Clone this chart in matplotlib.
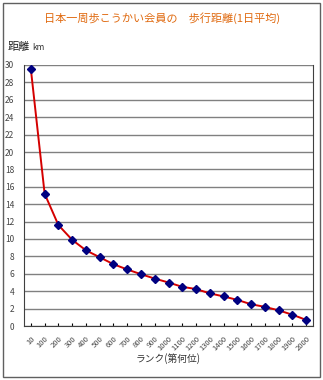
import matplotlib.pyplot as plt
from matplotlib.patches import Rectangle

plt.rcParams['font.family'] = ['Noto Sans CJK JP', 'DejaVu Sans']

ranks = ['10', '100', '200', '300', '400', '500', '600', '700', '800', '900', '1000',
         '1100', '1200', '1300', '1400', '1500', '1600', '1700', '1800', '1900', '2000']
distance_km = [29.5, 15.2, 11.6, 9.9, 8.7, 7.9, 7.1, 6.5, 5.95, 5.45, 5.0,
               4.5, 4.25, 3.75, 3.4, 3.0, 2.5, 2.2, 1.8, 1.3, 0.7]

title = '日本一周歩こうかい会員の　歩行距離(1日平均)'

def main():
    fig = plt.figure(figsize=(3.23, 3.80), dpi=100)
    W, H = 323, 380
    ax = fig.add_axes([24 / W, 1 - 326 / H, (313 - 24) / W, (326 - 65) / H])

    x = list(range(len(ranks)))
    ax.plot(x, distance_km, color='#d40000', lw=1.4, zorder=3)
    ax.plot(x, distance_km, 'D', color='#000080', ms=4.5, zorder=4)

    ax.set_xlim(-0.5, len(ranks) - 0.5)
    ax.set_ylim(0, 30)
    ax.set_yticks(range(0, 31, 2))
    ax.tick_params(axis='y', labelsize=6, length=0, pad=7, colors='#444444')
    ax.set_xticks(x)
    ax.set_xticklabels(ranks, rotation=45, fontsize=5.5, color='#444444',
                       ha='right', rotation_mode='anchor')
    ax.tick_params(axis='x', length=2, direction='in', pad=6)
    ax.grid(axis='y', color='#808080', lw=1)
    ax.set_axisbelow(True)
    for side in ['left', 'bottom', 'right']:
        ax.spines[side].set_color('#404040')
    ax.spines['top'].set_visible(False)

    ax.set_xlabel('ランク(第何位)', fontsize=7, color='#333333', labelpad=1)

    fig.text(162 / W, 1 - 18 / H, title, ha='center', va='center',
             fontsize=8, color='#e06a10')
    fig.text(8 / W, 1 - 47 / H, '距離', ha='left', va='center', fontsize=8, color='#222222')
    fig.text(32 / W, 1 - 47 / H, 'km', ha='left', va='center', fontsize=6, color='#333333')

    fig.patches.append(Rectangle((3 / W, 3 / H), 1 - 6 / W, 1 - 6 / H,
                                 transform=fig.transFigure, fill=False,
                                 ec='#606060', lw=1))

    fig.savefig('out.png', dpi=100)

if __name__ == "__main__":
    main()
